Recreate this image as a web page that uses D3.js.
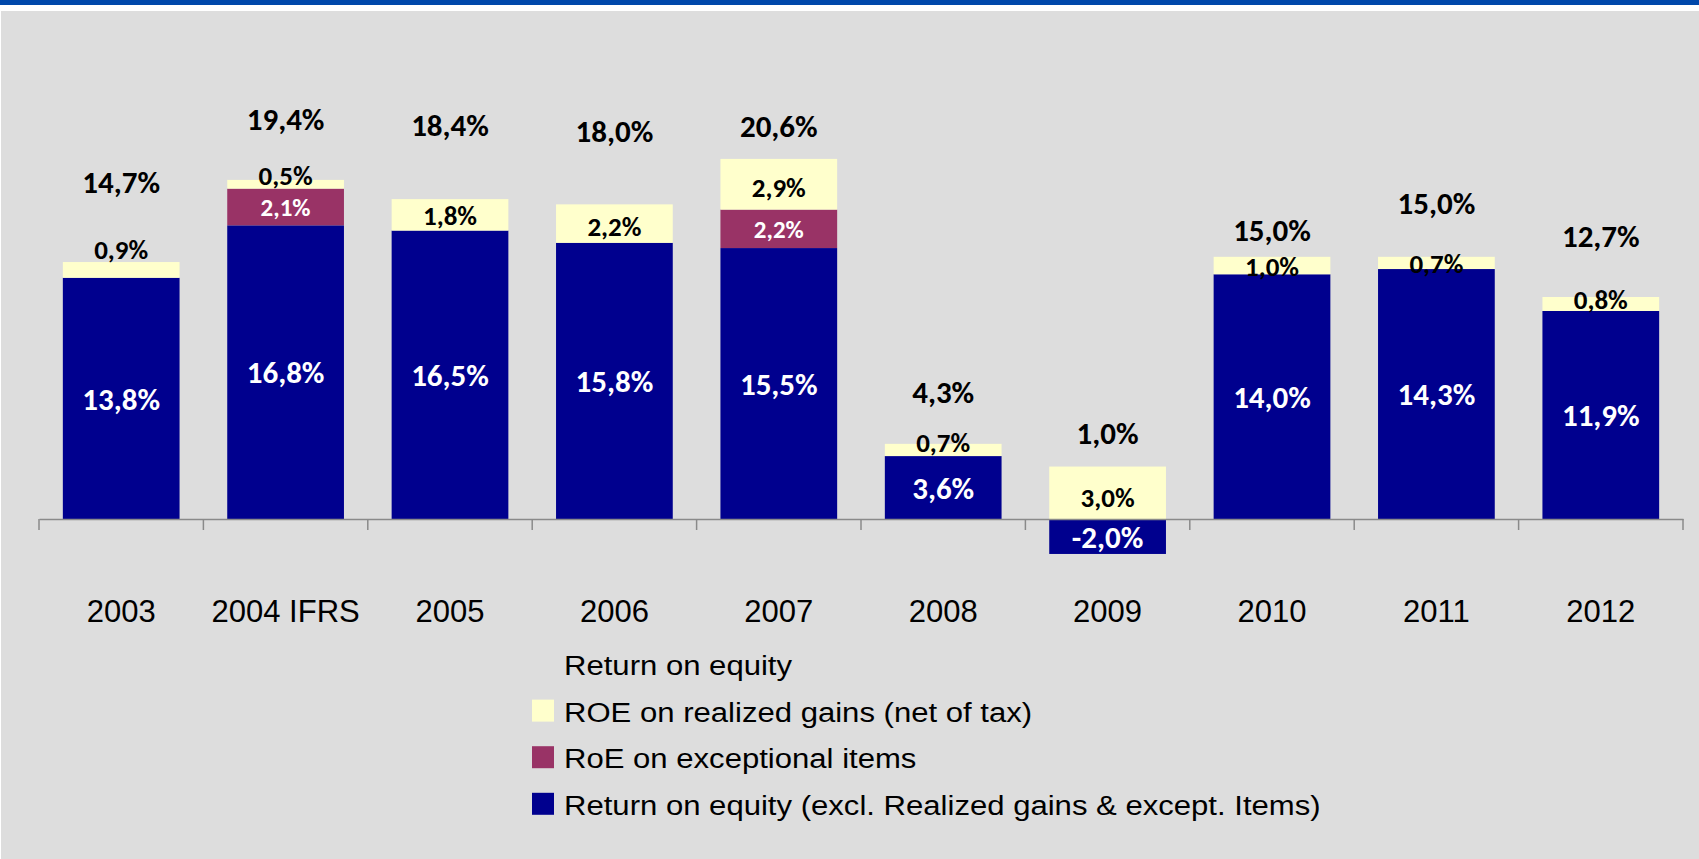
<!DOCTYPE html>
<html>
<head>
<meta charset="utf-8">
<script src="https://cdn.jsdelivr.net/npm/d3@7"></script>
<style>
    body { margin: 0; background: #fff; }
    svg { display: block; }
</style>
</head>
<body>
<div class="container"></div>
<script>
const categories = ["2003", "2004 IFRS", "2005", "2006", "2007", "2008", "2009", "2010", "2011", "2012"],
    coreRoe = [13.8, 16.8, 16.5, 15.8, 15.5, 3.6, -2.0, 14.0, 14.3, 11.9],
    exceptionalRoe = [0, 2.1, 0, 0, 2.2, 0, 0, 0, 0, 0],
    realizedRoe = [0.9, 0.5, 1.8, 2.2, 2.9, 0.7, 3.0, 1.0, 0.7, 0.8],
    totalRoe = [14.7, 19.4, 18.4, 18.0, 20.6, 4.3, 1.0, 15.0, 15.0, 12.7],
    // where the labels sit (in % units), as placed in the original
    totalLabelAt = [19.28, 22.88, 22.56, 22.19, 22.51, 7.27, 4.92, 16.55, 18.1, 16.18],
    realizedLabelAt = [15.45, 19.68, 17.36, 16.73, 18.96, 4.4, 1.26, 14.44, 14.63, 12.59],
    legendTitle = "Return on equity",
    legendLabels = ["ROE on realized gains (net of tax)", "RoE on exceptional items",
        "Return on equity (excl. Realized gains & except. Items)"];

const W = 1699, H = 859,
    colors = {core: "#00008E", exceptional: "#993366", realized: "#FFFFCC"},
    labelFont = "Carlito, Lato, sans-serif",
    axisFont = "'Liberation Sans', Arial, sans-serif";

const fmt = d3.formatLocale({decimal: ",", thousands: ".", grouping: [3], currency: ["", "%"], minus: "-"}).format(".1f"),
    pct = v => fmt(v) + "%";

const svg = d3.select(".container").append("svg")
    .attr("width", W)
    .attr("height", H);

// frame: blue band on top, grey panel
svg.append("rect").attr("x", 0).attr("y", 0).attr("width", W).attr("height", 5).attr("fill", "#0048AA");
svg.append("rect").attr("x", 1).attr("y", 11).attr("width", W - 1).attr("height", H - 11).attr("fill", "#DDDDDD");

const rows = categories.map((c, i) => ({
    cat: c, core: coreRoe[i], exceptional: exceptionalRoe[i], realized: realizedRoe[i]
}));

const xScale = d3.scaleBand()
    .domain(categories)
    .range([39, 1683])
    .paddingInner(0.29)
    .paddingOuter(0.145);

const yScale = d3.scaleLinear()
    .domain([-5, 25])
    .range([519 + 5 * 17.48, 519 - 25 * 17.48]);

const stack = d3.stack()
    .keys(["core", "exceptional", "realized"])
    .offset(d3.stackOffsetDiverging);
const series = stack(rows);

svg.append("g").selectAll("g")
    .data(series)
    .join("g")
    .attr("fill", s => colors[s.key])
    .selectAll("rect")
    .data(s => s.filter(d => d[1] !== d[0]))
    .join("rect")
    .attr("x", d => xScale(d.data.cat))
    .attr("width", xScale.bandwidth())
    .attr("y", d => yScale(Math.max(d[0], d[1])))
    .attr("height", d => Math.abs(yScale(d[0]) - yScale(d[1])));

// axis: baseline, boundary ticks, category labels
const xAxis = d3.axisBottom(xScale).tickSize(0).tickSizeOuter(0).tickPadding(81);
const axisG = svg.append("g")
    .attr("transform", `translate(0,${yScale(0)})`)
    .call(xAxis);
axisG.select(".domain").attr("stroke", "#8A8A8A").attr("stroke-width", 1.5);
axisG.selectAll("text")
    .attr("font-family", axisFont)
    .attr("font-size", 31)
    .attr("fill", "#000");

const step = xScale.step(),
    bounds = d3.range(categories.length + 1).map(i => xScale.range()[0] + i * step);
axisG.selectAll(".bound")
    .data(bounds)
    .join("line")
    .attr("class", "bound")
    .attr("x1", d => d).attr("x2", d => d)
    .attr("y1", 0).attr("y2", 11)
    .attr("stroke", "#8A8A8A")
    .attr("stroke-width", 1.5);

// value labels
const mid = d => xScale(d.data.cat) + xScale.bandwidth() / 2;
const labels = svg.append("g")
    .attr("font-family", labelFont)
    .attr("font-weight", 700)
    .attr("text-anchor", "middle");

labels.selectAll(".core")
    .data(series[0])
    .join("text")
    .attr("class", "core")
    .attr("x", mid)
    .attr("y", d => yScale((d[0] + d[1]) / 2))
    .attr("dy", "0.36em")
    .attr("font-size", 31)
    .attr("fill", "#fff")
    .text(d => pct(d.data.core));

labels.selectAll(".exc")
    .data(series[1].filter(d => d.data.exceptional > 0))
    .join("text")
    .attr("class", "exc")
    .attr("x", mid)
    .attr("y", d => yScale((d[0] + d[1]) / 2))
    .attr("dy", "0.36em")
    .attr("font-size", 25)
    .attr("fill", "#fff")
    .text(d => pct(d.data.exceptional));

labels.selectAll(".real")
    .data(series[2])
    .join("text")
    .attr("class", "real")
    .attr("x", mid)
    .attr("y", (d, i) => yScale(realizedLabelAt[i]))
    .attr("dy", "0.36em")
    .attr("font-size", 27)
    .attr("fill", "#000")
    .text(d => pct(d.data.realized));

labels.selectAll(".total")
    .data(categories)
    .join("text")
    .attr("class", "total")
    .attr("x", c => xScale(c) + xScale.bandwidth() / 2)
    .attr("y", (c, i) => yScale(totalLabelAt[i]))
    .attr("dy", "0.36em")
    .attr("font-size", 31)
    .attr("fill", "#000")
    .text((c, i) => pct(totalRoe[i]));

// legend
const legend = svg.append("g")
    .attr("font-family", axisFont)
    .attr("font-size", 28)
    .attr("fill", "#000");
const legendItems = [{label: legendTitle, color: null}]
    .concat(legendLabels.map((l, i) => ({label: l, color: [colors.realized, colors.exceptional, colors.core][i]})));

const item = legend.selectAll("g")
    .data(legendItems)
    .join("g")
    .attr("transform", (d, i) => `translate(532,${675 + i * 46.6})`);
item.filter(d => d.color)
    .append("rect")
    .attr("x", 0).attr("y", -22)
    .attr("width", 22).attr("height", 22)
    .attr("fill", d => d.color);
item.append("text")
    .attr("transform", "translate(32,0) scale(1.11,1)")
    .text(d => d.label);
</script>
</body>
</html>
